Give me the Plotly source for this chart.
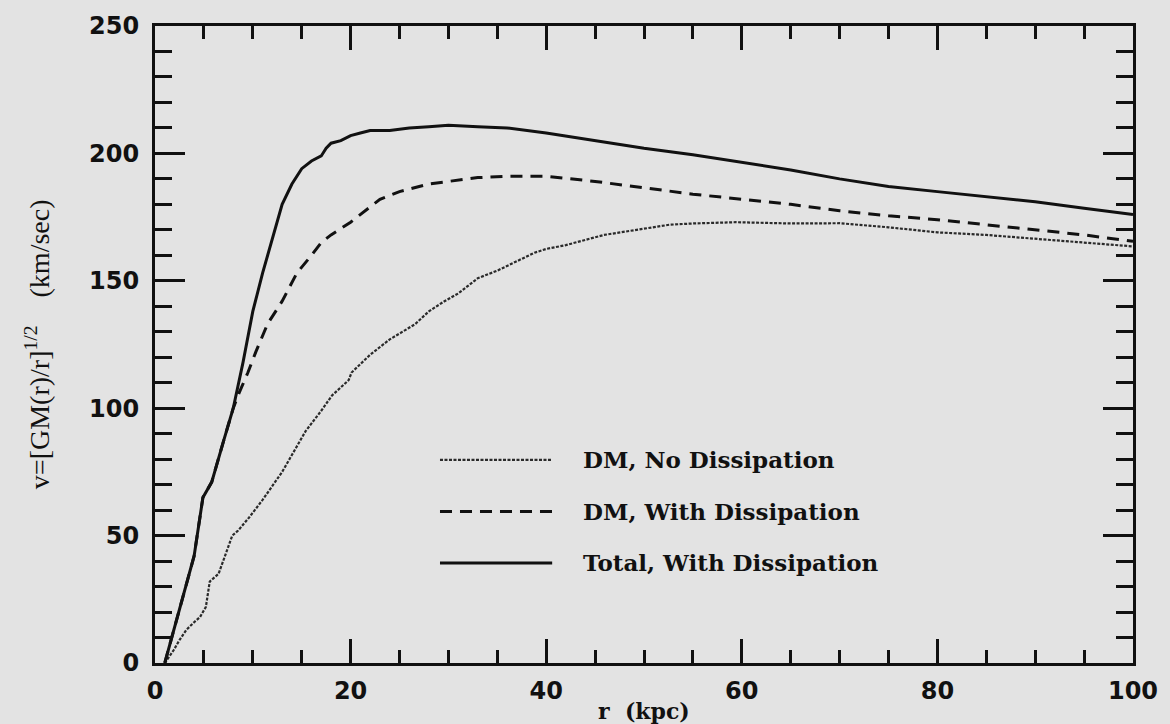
import plotly.graph_objects as go

# ---- data ----
r_total = [1, 2, 3, 4, 4.9, 5.8, 7, 8, 9, 10, 11, 12, 13, 14, 15, 16, 17, 17.5, 18, 19, 20,
           21, 22, 24, 26, 28, 30, 33, 36, 40, 45, 50, 55, 60, 65, 70, 75, 80, 85, 90, 95, 100]
v_total = [0, 14, 28, 42, 65, 71, 87, 100, 118, 138, 153, 167, 180, 188, 194, 197, 199, 202, 204, 205, 207,
           208, 209, 209, 210, 210.5, 211, 210.5, 210, 208, 205, 202, 199.5, 196.5, 193.5, 190, 187, 185, 183, 181, 178.5, 176]

r_dm_diss = [1, 2, 3, 4, 4.9, 5.8, 7, 8, 8.6, 9.5, 10.3, 11.5, 13, 14.5, 16, 17, 18, 20, 22, 23, 25,
             28, 30, 33, 36, 40, 45, 50, 55, 60, 65, 70, 75, 80, 85, 90, 95, 100]
v_dm_diss = [0, 14, 28, 42, 65, 71, 87, 100, 106, 114, 122, 133, 142, 153, 160, 165, 168, 173, 179, 182, 185,
             188, 189, 190.5, 191, 191, 189, 186.5, 184, 182, 180, 177.5, 175.5, 174, 172, 170, 168, 165.5]

r_dm_nodiss = [1, 1.9, 2.5, 3.2, 4, 4.6, 5.2, 5.6, 6.5, 7.3, 7.9, 8.5, 9.6, 11, 13, 15.4, 17, 18.1, 19.8,
               20.1, 22, 24, 26.6, 28, 29.6, 31, 33, 35, 38.8, 40, 42, 45.9, 50, 52.6, 55, 59.4, 65, 70,
               75, 80, 85, 90, 95, 100]
v_dm_nodiss = [0, 5, 9, 13, 16, 18, 22, 32, 35, 44, 50, 52, 57, 64, 75, 91, 99, 105, 111,
               114, 121, 127, 133, 138, 142, 145, 151, 154, 161, 162.5, 164, 168, 170.5, 172, 172.5, 173, 172.5, 172.6,
               171, 169, 168, 166.5, 165, 163.5]

labels = ["DM, No Dissipation", "DM, With Dissipation", "Total, With Dissipation"]

BG = "#e3e3e3"
INK = "#111111"

dot_style = dict(color="#2a2a2a", width=2.2, dash="3px,1.5px")
dash_style = dict(color=INK, width=3, dash="12px,8px")
solid_style = dict(color=INK, width=3)

fig = go.Figure()
fig.add_trace(go.Scatter(x=r_dm_nodiss, y=v_dm_nodiss, mode="lines", name=labels[0],
                         line=dot_style, showlegend=False))
fig.add_trace(go.Scatter(x=r_dm_diss, y=v_dm_diss, mode="lines", name=labels[1],
                         line=dash_style, showlegend=False))
fig.add_trace(go.Scatter(x=r_total, y=v_total, mode="lines", name=labels[2],
                         line=solid_style, showlegend=False))

tickfont = dict(family="DejaVu Sans", size=24, color=INK, weight="bold")

fig.update_layout(
    width=1170, height=724,
    margin=dict(l=155, r=30, t=20, b=61),
    paper_bgcolor=BG, plot_bgcolor=BG,
    xaxis=dict(range=[0, 100], tickvals=[0, 20, 40, 60, 80, 100], ticks="inside", ticklen=24,
               tickwidth=2.5, tickcolor=INK, showline=True, linewidth=3, linecolor=INK,
               mirror="ticks", showgrid=False, zeroline=False, tickfont=tickfont,
               ticklabelstandoff=4,
               minor=dict(dtick=5, ticks="inside", ticklen=13, tickwidth=2.5, tickcolor=INK, showgrid=False)),
    yaxis=dict(range=[0, 250], tickvals=[0, 50, 100, 150, 200, 250], ticks="inside", ticklen=30,
               tickwidth=2.5, tickcolor=INK, showline=True, linewidth=3, linecolor=INK,
               mirror="ticks", showgrid=False, zeroline=False, tickfont=tickfont,
               ticklabelstandoff=8,
               minor=dict(dtick=10, ticks="inside", ticklen=17, tickwidth=2.5, tickcolor=INK, showgrid=False)),
)

# axis titles
fig.add_annotation(text="<b>r  (kpc)</b>", xref="paper", yref="paper", x=0.5, y=-0.075,
                   xanchor="center", yanchor="middle", showarrow=False,
                   font=dict(family="DejaVu Serif", size=22, color=INK))
fig.add_annotation(text="v=[GM(r)/r]<sup>1/2</sup>\u00a0\u00a0\u00a0\u00a0(km/sec)", xref="paper", yref="paper",
                   x=-0.12, y=0.5, xanchor="center", yanchor="middle", textangle=-90, showarrow=False,
                   font=dict(family="Liberation Serif", size=28, color=INK))

# custom legend
leg_y = [0.3188, 0.2379, 0.1571]
styles = [dot_style, dash_style, solid_style]
for lab, yy, st in zip(labels, leg_y, styles):
    fig.add_shape(type="line", xref="paper", yref="paper", x0=0.2914, x1=0.4061, y0=yy, y1=yy, line=st)
    fig.add_annotation(text="<b>" + lab + "</b>", xref="paper", yref="paper", x=0.4355, y=yy,
                       xanchor="left", yanchor="middle", showarrow=False,
                       font=dict(family="DejaVu Serif", size=23, color=INK))

fig.write_html("out.html")
